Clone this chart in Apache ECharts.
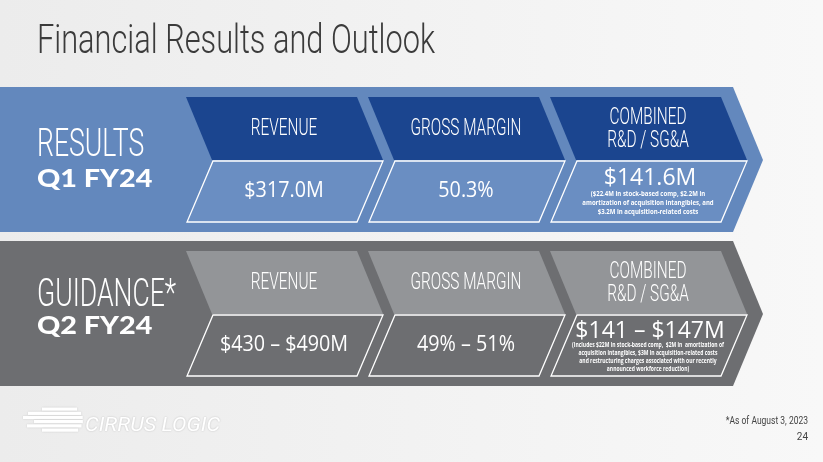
<!DOCTYPE html>
<html>
<head>
<meta charset="utf-8">
<script src="https://cdn.jsdelivr.net/npm/echarts@6/dist/echarts.min.js"></script>
<style>html,body{margin:0;padding:0;}#c{width:823px;height:462px;}</style>
</head>
<body>
<div id="c"></div>
<script>
// ---- data ----
const slideTitle = 'Financial Results and Outlook';
const categories = ['REVENUE', 'GROSS MARGIN', 'COMBINED\nR&D / SG&A'];
const periods = ['RESULTS', 'GUIDANCE*'];
const quarters = ['Q1 FY24', 'Q2 FY24'];
const resultsValues = ['$317.0M', '50.3%', '$141.6M'];
const guidanceValues = ['$430 – $490M', '49% – 51%', '$141 – $147M'];
const resultsNotes = ['', '', '($22.4M in stock-based comp, $2.2M in\namortization of acquisition intangibles, and\n$3.2M in acquisition-related costs'];
const guidanceNotes = ['', '', '(Includes $22M in stock-based comp,  $2M in  amortization of\nacquisition intangibles, $3M in acquisition-related costs\nand restructuring charges associated with our recently\nannounced workforce reduction)'];
const footnote = '*As of August 3, 2023';
const pageNumber = '24';
const companyName = 'CIRRUS LOGIC';

// ---- styles ----
const rowStyle = [
  { band: '#6388bd', head: '#1b458f', cell: '#6a8ec2', labelDy: -14, quarterDy: 19, noteSize: 7, noteScale: 0.86, noteLH: 9, noteDy: 43, valDy: 18 },
  { band: '#6d6e71', head: '#939598', cell: '#6d6e71', labelDy: -18, quarterDy: 12, noteSize: 6.6, noteScale: 0.76, noteLH: 8, noteDy: 43, valDy: 17 }
];
const rowValues = [resultsValues, guidanceValues];
const rowNotes = [resultsNotes, guidanceNotes];

const cellData = [];
for (let r = 0; r < periods.length; r++) {
  for (let i = 0; i < categories.length; i++) cellData.push([i, r]);
}

const chart = echarts.init(document.getElementById('c'));

function bandRender(params, api) {
  const r = api.value(1);
  const c = api.coord([0, r]);
  const cs = params.coordSys;
  const cy = c[1];
  const xr = cs.x + cs.width + 6;
  const st = rowStyle[r];
  return {
    type: 'group',
    children: [
      { type: 'polygon', shape: { points: [[0, cy - 73], [xr, cy - 73], [xr + 30, cy], [xr, cy + 72], [0, cy + 72]] }, style: { fill: st.band } },
      { type: 'text', x: 37, y: cy + st.labelDy, scaleX: 0.7, style: { text: periods[r], fill: '#fff', fontFamily: 'Roboto', fontWeight: 300, fontSize: 38, align: 'left', verticalAlign: 'middle' } },
      { type: 'text', x: 37, y: cy + st.quarterDy, scaleX: 1.15, style: { text: quarters[r], fill: '#fff', fontFamily: 'Lato', fontWeight: 900, fontSize: 25, align: 'left', verticalAlign: 'middle' } }
    ]
  };
}

function cellRender(params, api) {
  const i = api.value(0), r = api.value(1);
  const c = api.coord([i, r]);
  const cx = c[0], cy = c[1];
  const st = rowStyle[r];
  const note = rowNotes[r][i];
  const children = [
    { type: 'polygon', shape: { points: [[cx - 86, cy - 63], [cx + 85, cy - 63], [cx + 111, cy], [cx - 60, cy]] }, style: { fill: st.head } },
    { type: 'polygon', shape: { points: [[cx - 59, cy + 1], [cx + 111, cy + 1], [cx + 85, cy + 62], [cx - 85, cy + 62]] }, style: { fill: st.cell, stroke: '#ffffff', lineWidth: 1.3 } },
    { type: 'text', x: cx + 12, y: cy - 31, scaleX: 0.64, style: { text: categories[i], fill: '#fff', fontFamily: 'Roboto', fontWeight: 300, fontSize: 24, lineHeight: 23, align: 'center', verticalAlign: 'middle' } }
  ];
  if (note) {
    children.push({ type: 'text', x: cx + 14, y: cy + st.valDy, style: { text: rowValues[r][i], fill: '#fff', fontFamily: 'Open Sans', fontSize: 23, align: 'center', verticalAlign: 'middle' } });
    children.push({ type: 'text', x: cx + 12, y: cy + st.noteDy, scaleX: st.noteScale, style: { text: note, fill: '#fff', fontFamily: 'Open Sans', fontWeight: 700, fontSize: st.noteSize, lineHeight: st.noteLH, align: 'center', verticalAlign: 'middle' } });
  } else {
    children.push({ type: 'text', x: cx + 12, y: cy + 31, scaleX: 0.94, style: { text: rowValues[r][i], fill: '#fff', fontFamily: 'Open Sans', fontSize: 21, align: 'center', verticalAlign: 'middle' } });
  }
  return { type: 'group', children };
}

// logo stripes
const logo = [];
const lcx = 70, lcy = 420, lr = 13;
const stripeStarts = [42, 28, 23, 34, 27, 42];
for (let k = 0; k < 6; k++) {
  const y = 407.5 + k * 4.2;
  const dy = (y + 1.6) - lcy;
  const xr = lcx + Math.sqrt(Math.max(0, lr * lr - dy * dy));
  logo.push({ type: 'rect', shape: { x: stripeStarts[k], y: y, width: xr - stripeStarts[k], height: 3.2 }, style: { fill: '#ffffff', shadowColor: 'rgba(0,0,0,0.15)', shadowBlur: 2 } });
}

chart.setOption({
  backgroundColor: { type: 'linear', x: 0, y: 0, x2: 1, y2: 0, colorStops: [{ offset: 0, color: '#ececec' }, { offset: 1, color: '#f8f8f8' }] },
  animation: false,
  grid: { left: 181, width: 546, top: 83, height: 308 },
  xAxis: { type: 'category', data: categories, show: false },
  yAxis: { type: 'category', data: periods, inverse: true, show: false },
  graphic: [
    { type: 'text', left: 37, top: 22, scaleX: 0.75, style: { text: slideTitle, fill: '#3b3b3b', fontFamily: 'Roboto', fontWeight: 300, fontSize: 41 } },
    { type: 'group', children: logo },
    { type: 'text', x: 85, y: 426, scaleX: 1.08, style: { text: companyName, fill: '#ffffff', fontFamily: 'Roboto', fontStyle: 'italic', fontSize: 20, verticalAlign: 'middle', textShadowColor: 'rgba(0,0,0,0.2)', textShadowBlur: 2 } },
    { type: 'text', x: 808, y: 421, scaleX: 0.85, style: { text: footnote, fill: '#444', fontFamily: 'Roboto', fontSize: 10, align: 'right', verticalAlign: 'middle' } },
    { type: 'text', x: 808, y: 437, style: { text: pageNumber, fill: '#444', fontFamily: 'Roboto', fontSize: 10, align: 'right', verticalAlign: 'middle' } }
  ],
  series: [
    { type: 'custom', renderItem: bandRender, data: [[0, 0], [0, 1]], silent: true, z: 1 },
    { type: 'custom', renderItem: cellRender, data: cellData, silent: true, z: 2 }
  ]
});
</script>
</body>
</html>
